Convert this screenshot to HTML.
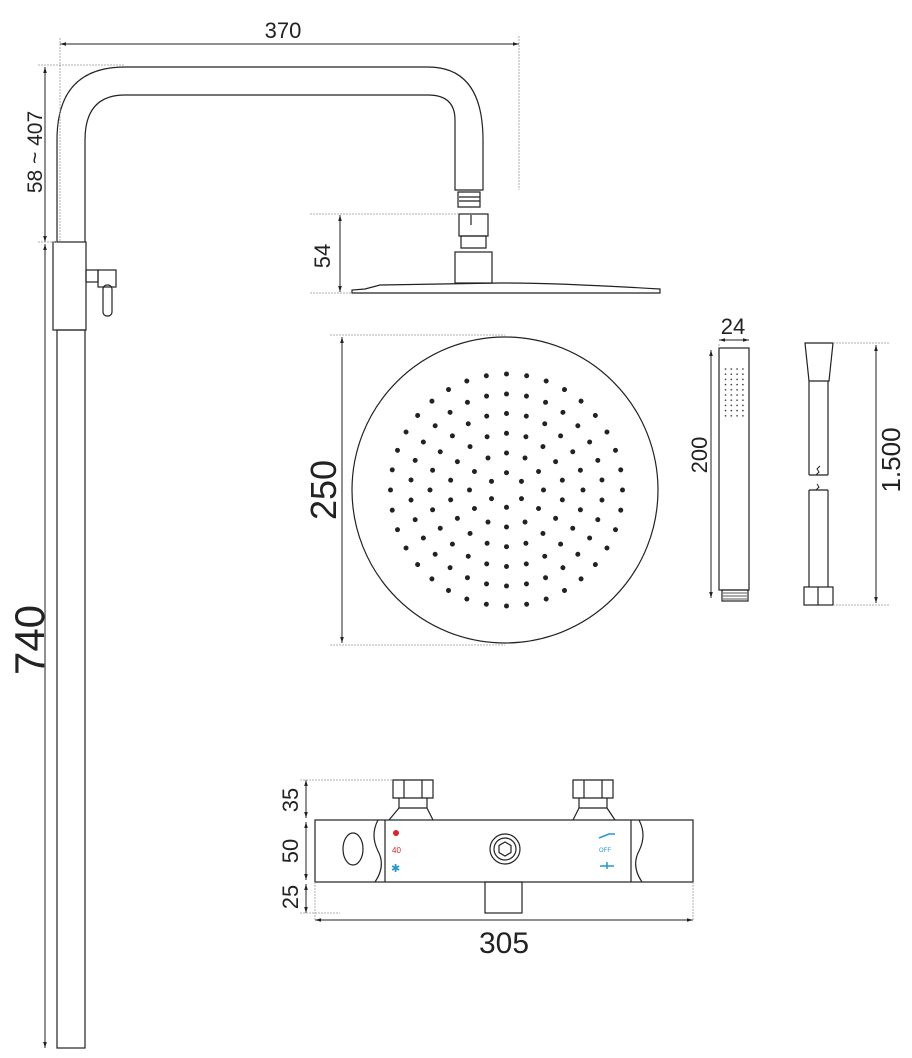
<!DOCTYPE html>
<html><head><meta charset="utf-8"><style>body{margin:0;background:#fff}svg{display:block}text{font-family:"Liberation Sans",sans-serif;fill:#222}</style></head>
<body>
<svg width="912" height="1058" viewBox="0 0 912 1058" xmlns="http://www.w3.org/2000/svg" xmlns:xlink="http://www.w3.org/1999/xlink">
<defs><marker id="a" viewBox="0 0 10 10" refX="10" refY="5" markerWidth="6" markerHeight="6" orient="auto-start-reverse"><path d="M0,2L10,5L0,8z" fill="#222"/></marker>
<pattern id="sp" patternUnits="userSpaceOnUse" x="723.5" y="367" width="5.8" height="5.2"><circle cx="2" cy="2" r=".8" fill="#333"/></pattern>
<g id="sec" fill="#222">
<circle cx="0" cy="-17.3" r="2.5"/>
<circle cx="0" cy="-37" r="2.5"/><circle cx="0" cy="-37" r="2.5" transform="rotate(30)"/>
<circle cx="0" cy="-56.7" r="2.5"/><circle cx="0" cy="-56.7" r="2.5" transform="rotate(20)"/><circle cx="0" cy="-56.7" r="2.5" transform="rotate(40)"/>
<circle cx="0" cy="-76.5" r="2.5"/><circle cx="0" cy="-76.5" r="2.5" transform="rotate(15)"/><circle cx="0" cy="-76.5" r="2.5" transform="rotate(30)"/><circle cx="0" cy="-76.5" r="2.5" transform="rotate(45)"/>
<circle cx="0" cy="-96" r="2.5"/><circle cx="0" cy="-96" r="2.5" transform="rotate(12)"/><circle cx="0" cy="-96" r="2.5" transform="rotate(24)"/><circle cx="0" cy="-96" r="2.5" transform="rotate(36)"/><circle cx="0" cy="-96" r="2.5" transform="rotate(48)"/>
<circle cx="0" cy="-116" r="2.5"/><circle cx="0" cy="-116" r="2.5" transform="rotate(10)"/><circle cx="0" cy="-116" r="2.5" transform="rotate(20)"/><circle cx="0" cy="-116" r="2.5" transform="rotate(30)"/><circle cx="0" cy="-116" r="2.5" transform="rotate(40)"/><circle cx="0" cy="-116" r="2.5" transform="rotate(50)"/>
</g>
</defs>
<g transform="translate(506.5,490)">
<use href="#sec" xlink:href="#sec"/>
<use href="#sec" xlink:href="#sec" transform="rotate(60)"/>
<use href="#sec" xlink:href="#sec" transform="rotate(120)"/>
<use href="#sec" xlink:href="#sec" transform="rotate(180)"/>
<use href="#sec" xlink:href="#sec" transform="rotate(240)"/>
<use href="#sec" xlink:href="#sec" transform="rotate(300)"/>
</g>
<rect x="723.5" y="367" width="23" height="52" fill="url(#sp)"/>
<g fill="none" stroke="#222" stroke-width="1.2">
<path d="M57,242 V140 Q57,67 125,67 H428 Q483,67 483,140 V190 H455 V120 Q455,95 428,95 H125 Q85,95 85,140 V242"/>
<path d="M458,192h22v15h-22z M459,197h21 M459,201h21"/>
<rect x="53" y="242" width="33" height="88"/>
<rect x="57" y="330" width="28" height="718"/>
<rect x="86" y="270" width="12" height="12"/><rect x="98" y="270" width="18" height="17"/><rect x="103" y="285" width="9" height="31" rx="4"/>
<rect x="459" y="214" width="29" height="22"/><path d="M471,215v10"/><path d="M461,236h25v12h-25z"/>
<rect x="455" y="252" width="37" height="31"/>
<path d="M352,293 L660,293 L660,289 Q560,283 500,283 L380,285 L365,289 L352,290Z"/>
<circle cx="505" cy="490" r="153"/>
<rect x="719" y="348" width="30" height="242"/><rect x="722" y="590" width="26" height="11"/>
<path d="M723,593h24M723,596h24M723,599h24" stroke-width=".8"/>
<path d="M805,343h28l-4,38h-20z"/>
<path d="M809,381V475 M828,381V475 M809,490V587 M828,490V587 M809,475h19 M809,490h19" />
<path d="M816,475l3,-3l-2,-3l3,-3 M816,490l3,-3l-2,-3" stroke-width="1"/>
<rect x="804" y="587" width="29" height="18"/><path d="M818,587v18"/>
<rect x="315" y="820" width="378" height="62"/>
<path d="M385,820v62 M631,820v62"/>
<path d="M378,820 q-8,15 0,31 q8,15 -3,31 M639,820 q8,15 0,31 q-8,15 3,31"/>
<ellipse cx="353" cy="849" rx="10" ry="16"/>
<circle cx="505" cy="849" r="15"/><circle cx="505" cy="849" r="11"/><path d="M505,842l6,3.5v7l-6,3.5l-6,-3.5v-7z"/>
<path d="M393,780h40v18h-40z M404,780v18 M422,780v18 M399,798h28v10h-28z M399,808l-10,12 M427,808l6,12"/>
<path d="M573,780h40v18h-40z M584,780v18 M602,780v18 M579,798h28v10h-28z M579,808l-6,12 M607,808l8,12"/>
<rect x="485" y="882" width="37" height="31"/>
</g>
<g stroke="#222" stroke-width="1" fill="none">
<path d="M60,44H519" marker-start="url(#a)" marker-end="url(#a)"/>
<path d="M45,67V242" marker-start="url(#a)" marker-end="url(#a)"/>
<path d="M45,244V1048" marker-start="url(#a)" marker-end="url(#a)"/>
<path d="M340,215V292" marker-start="url(#a)" marker-end="url(#a)"/>
<path d="M342,337V643" marker-start="url(#a)" marker-end="url(#a)"/>
<path d="M719,340H749" marker-start="url(#a)" marker-end="url(#a)"/>
<path d="M711,350V598" marker-start="url(#a)" marker-end="url(#a)"/>
<path d="M876,345V603" marker-start="url(#a)" marker-end="url(#a)"/>
<path d="M306,780V818" marker-start="url(#a)" marker-end="url(#a)"/>
<path d="M306,822V880" marker-start="url(#a)" marker-end="url(#a)"/>
<path d="M306,884V913" marker-start="url(#a)" marker-end="url(#a)"/>
<path d="M315,920H693" marker-start="url(#a)" marker-end="url(#a)"/>
</g>
<g stroke="#999" stroke-width=".8" stroke-dasharray="2,1" fill="none">
<path d="M60,38V242 M519,36V190 M38,65H125 M38,242H57 M310,214H459 M310,293H352 M330,335H505 M330,645H505 M719,344V348 M833,343H890 M833,605H890 M300,780H393 M300,913H340 M693,882V920 M315,882V920"/>
</g>
<g>
<text x="283" y="38" font-size="22" text-anchor="middle">370</text>
<text transform="translate(42,152) rotate(-90)" font-size="21" text-anchor="middle">58 ~ 407</text>
<text transform="translate(44,640) rotate(-90)" font-size="42" text-anchor="middle">740</text>
<text transform="translate(330,256) rotate(-90)" font-size="22" text-anchor="middle">54</text>
<text transform="translate(336,490) rotate(-90)" font-size="36" text-anchor="middle">250</text>
<text x="733" y="334" font-size="22" text-anchor="middle">24</text>
<text transform="translate(707,455) rotate(-90)" font-size="22" text-anchor="middle">200</text>
<text transform="translate(900,460) rotate(-90)" font-size="26" text-anchor="middle">1.500</text>
<text transform="translate(298,800) rotate(-90)" font-size="22" text-anchor="middle">35</text>
<text transform="translate(298,851) rotate(-90)" font-size="22" text-anchor="middle">50</text>
<text transform="translate(298,897) rotate(-90)" font-size="22" text-anchor="middle">25</text>
<text x="504" y="953" font-size="30" text-anchor="middle">305</text>
<text x="392" y="853" font-size="8" style="fill:#d22">40</text>
<circle cx="396" cy="833" r="3" fill="#d22"/>
<text x="391" y="872" font-size="11" style="fill:#29c">✱</text>
<text x="599" y="852" font-size="6" style="fill:#29c">OFF</text>
<path d="M599,838l10,-4h6 M600,866h14 M607,862v7" stroke="#29c" stroke-width="1.5" fill="none"/>
</g>
</svg>
</body></html>
